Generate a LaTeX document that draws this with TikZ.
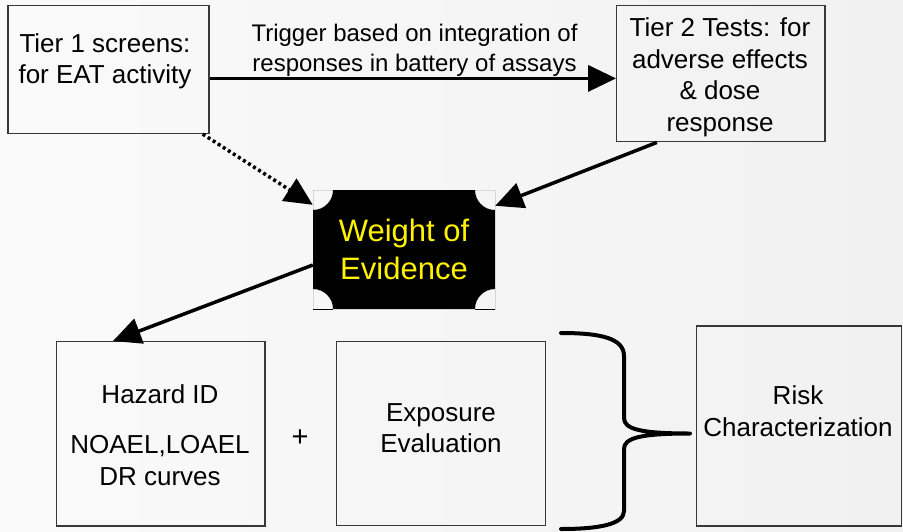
\documentclass[tikz,border=0pt]{standalone}
\usepackage{fontspec}
\setmainfont{Liberation Sans}
\usetikzlibrary{arrows.meta}

\begin{document}
\begin{tikzpicture}[x=1pt,y=-1pt,
  stepbox/.style={draw=black!78, line width=1.4pt, rectangle, inner sep=0pt},
  boxtext/.style={font=\fontsize{26}{31.5}\selectfont, align=center, inner sep=0pt},
  labeltext/.style={font=\fontsize{24}{29.7}\selectfont, align=center, inner sep=0pt},
  link/.style={line width=3.5pt, -{Triangle[length=28pt,width=26pt]}},
  dotlink/.style={link, dash pattern=on 3pt off 3pt},
  bracket/.style={line width=4pt, line cap=round, line join=round},
  woebox/.style={rectangle, inner sep=0pt, minimum width=182pt, minimum height=119pt,
    text=yellow, align=center, font=\fontsize{31}{37.6}\selectfont,
    path picture={
      \fill[black, even odd rule]
        (path picture bounding box.south west) rectangle (path picture bounding box.north east)
        (path picture bounding box.south west) circle[radius=20pt]
        (path picture bounding box.south east) circle[radius=20pt]
        (path picture bounding box.north west) circle[radius=20pt]
        (path picture bounding box.north east) circle[radius=20pt];
    }},
]
% canvas
\useasboundingbox (0,0) rectangle (903,531);
\fill[left color=gray!4, right color=gray!11] (0,0) rectangle (903,531);

% boxes
\node[stepbox, minimum width=201pt, minimum height=128pt] (t1) at (108.5,69.4) {};
\node[stepbox, minimum width=208.3pt, minimum height=136pt] (t2) at (720.9,73.7) {};
\node[stepbox, minimum width=208.3pt, minimum height=184.3pt] (haz) at (160.9,433.9) {};
\node[stepbox, minimum width=209pt, minimum height=184pt] (expo) at (441.2,433.7) {};
\node[stepbox, minimum width=205pt, minimum height=200pt] (risk) at (799.2,426) {};
\node[woebox] (woe) at (404,249.5) {Weight of\\Evidence};

% box texts
\node[boxtext] (t1text) at (105,61.2) {Tier 1 screens:\\for EAT activity};
\node[boxtext] (t2text) at (720,77.5) {Tier 2 Tests: for\\adverse effects\\\& dose\\response};
\node[boxtext] (haztext) at (160,435) {Hazard ID\\[19pt]NOAEL,LOAEL\\DR curves};
\node[boxtext] (expotext) at (441,428) {Exposure\\Evaluation};
\node[boxtext] (risktext) at (798,411) {Risk\\Characterization};
\node[boxtext, font=\fontsize{29}{31.5}\selectfont] (plus) at (300,438) {+};

% trigger arrow and its label
\coordinate (trigA) at ([yshift=-9pt]t1.east);
\coordinate (trigB) at (trigA -| t2.west);
\draw[link] (trigA) -- (trigB);
\node[labeltext] (trig) at (414.5,50.6) {Trigger based on integration of\\responses in battery of assays};

% links into and out of the weight of evidence
\draw[dotlink] ([xshift=-7pt]t1.south east) -- ([yshift=-15pt]woe.north west);
\draw[link] ([xshift=-64pt]t2.south) -- ([yshift=-16pt]woe.north east);
\draw[link] ([yshift=-15.5pt]woe.west) -- ([xshift=-48pt]haz.north);

% brace gathering hazard and exposure into risk
\draw[bracket] (561,333) .. controls (600,333) and (624,338) .. (624,356)
  -- (624,418) .. controls (624,429) and (640,433.5) .. (690,433.5)
  .. controls (640,433.5) and (624,438) .. (624,449)
  -- (624,511) .. controls (624,524) and (600,529) .. (561,529);
\end{tikzpicture}
\end{document}
